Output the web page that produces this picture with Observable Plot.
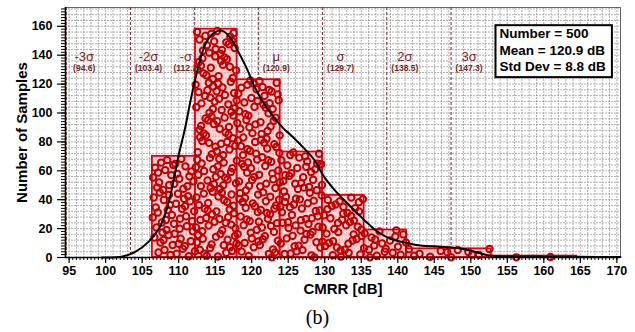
<!DOCTYPE html>
<html><head><meta charset="utf-8">
<script src="https://cdn.jsdelivr.net/npm/d3@7"></script>
<script src="https://cdn.jsdelivr.net/npm/@observablehq/plot@0.6"></script>
<style>
body{margin:0;background:#fff;font-family:"Liberation Sans",Arial,sans-serif}
#chart svg{display:block}
#caption{width:635px;text-align:center;font-family:"Liberation Serif","Times New Roman",serif;font-size:20px;line-height:30px;height:30px}
</style></head><body>
<div id="chart"></div>
<div id="caption">(b)</div>
<script>
// ---- data ----
const binEdges = [106.4, 112.3, 118.0, 123.9, 129.7, 135.4, 141.2, 147.0, 152.8, 158.6, 164.5];
const binCounts = [70, 158, 123, 73, 43, 19, 6, 6, 1, 1];
const sigmaValues = [94.6, 103.4, 112.2, 120.9, 129.7, 138.5, 147.3];
const sigmaNames = ["-3σ", "-2σ", "-σ", "μ", "σ", "2σ", "3σ"];
const sigmaValueLabels = ["(94.6)", "(103.4)", "(112.2)", "(120.9)", "(129.7)", "(138.5)", "(147.3)"];
const curveX = [99.5, 102.3, 104.1, 105.9, 107.3, 108.4, 109.3, 110.0, 110.9, 111.6, 112.3, 113.0, 113.9, 115.0, 115.9, 117.1, 118.0, 119.4, 120.3, 122.0, 124.4, 125.3, 126.7, 128.5, 129.9, 131.3, 132.6, 134.0, 135.4, 137.2, 139.0, 141.3, 143.1, 145.9, 148.2, 150.4, 152.3, 153.6, 156, 160, 165, 170.5];
const curveY = [0, 0.7, 4, 11, 20, 34, 53, 71, 90, 108, 124, 138, 150, 156, 157, 152, 144, 130, 119, 104, 89, 85, 78, 68, 56, 47, 40, 33, 26, 18, 13, 10, 8.3, 7.5, 6.5, 4.2, 1.6, 0.9, 0.7, 0.6, 0.5, 0.3];
const xTicks = [95, 100, 105, 110, 115, 120, 125, 130, 135, 140, 145, 150, 155, 160, 165, 170];
const yTicks = [0, 20, 40, 60, 80, 100, 120, 140, 160];
const sampleCount = 500, meanDb = 120.9, stdDevDb = 8.8;
const xLabel = "CMRR [dB]", yLabel = "Number of Samples";

// ---- derived tables ----
const bins = binCounts.map((c, i) => ({x1: binEdges[i], x2: binEdges[i + 1], count: c}));
function halton(i, b) { let f = 1, r = 0; while (i > 0) { f /= b; r += f * (i % b); i = Math.floor(i / b); } return r; }
const samples = [];
bins.forEach((b, i) => {
  for (let j = 0; j < b.count; j++) {
    const k = i * 61 + j + 1;
    samples.push({x: b.x1 + halton(k, 2) * (b.x2 - b.x1), y: halton(k, 3) * b.count});
  }
});
const curve = curveX.map((x, i) => ({x, y: curveY[i]}));
const sigmas = sigmaValues.map((v, i) => ({v, name: sigmaNames[i], label: sigmaValueLabels[i]}));
const legendText = `Number = ${sampleCount}\nMean = ${meanDb} dB\nStd Dev = ${stdDevDb} dB`;

const sigColor = "#7e2626";
const sigLeft = sigmas.filter(d => d.name === "-σ");
const sigRight = sigmas.filter(d => d.name !== "-σ");

const plot = Plot.plot({
  width: 635, height: 302,
  marginLeft: 65, marginRight: 15, marginTop: 7, marginBottom: 45,
  style: {fontFamily: "'Liberation Sans', Arial, sans-serif", background: "#fff"},
  x: {domain: [94.5, 170.5]},
  y: {domain: [0, 173]},
  marks: [
    Plot.gridX(d3.range(95, 171, 1), {stroke: "#8c8c8c", strokeOpacity: 1, strokeWidth: 0.7, strokeDasharray: "2,1"}),
    Plot.gridY(d3.range(4, 173, 4), {stroke: "#8c8c8c", strokeOpacity: 1, strokeWidth: 0.7, strokeDasharray: "2,1"}),
    Plot.frame({stroke: "#666", strokeWidth: 1}),
    Plot.ruleX(sigmas, {x: "v", stroke: sigColor, strokeWidth: 1, strokeDasharray: "3,2"}),
    Plot.rectY(bins, {x1: "x1", x2: "x2", y: "count", fill: "#f6b9be", fillOpacity: 0.6, stroke: "#e50010", strokeWidth: 1.8}),
    Plot.dot(samples, {x: "x", y: "y", r: 3.2, stroke: "#c00000", strokeWidth: 2, fill: "none"}),
    Plot.line(curve, {x: "x", y: "y", curve: "catmull-rom", stroke: "#000", strokeWidth: 2}),
    Plot.text(sigRight, {x: "v", text: "name", frameAnchor: "top", dy: 44, dx: 18, fill: sigColor, fontSize: 13, className: "sig-name"}),
    Plot.text(sigRight, {x: "v", text: "label", frameAnchor: "top", dy: 57, dx: 18, fill: sigColor, fontSize: 8.5, className: "sig-val"}),
    Plot.text(sigLeft, {x: "v", text: "name", frameAnchor: "top", dy: 44, dx: -9, fill: sigColor, fontSize: 13, className: "sig-name"}),
    Plot.text(sigLeft, {x: "v", text: "label", frameAnchor: "top", dy: 57, dx: -8, fill: sigColor, fontSize: 8.5, className: "sig-val"}),
    Plot.text([legendText], {frameAnchor: "top-right", dx: -121, dy: 19, textAnchor: "start", lineAnchor: "top", lineHeight: 1.22, fontSize: 13.5, fill: "#000", className: "legend-text"}),
    Plot.axisX(d3.range(95, 170.01, 0.5), {tickSize: 3, text: null, stroke: "#000", strokeWidth: 1}),
    Plot.axisX(xTicks, {tickSize: 6, tickPadding: 3, fontSize: 12.5, stroke: "#000", strokeWidth: 1.2, label: xLabel, labelAnchor: "center", labelArrow: "none", labelOffset: 36, color: "#000"}),
    Plot.axisY(d3.range(0, 173, 2), {tickSize: 4, text: null, stroke: "#000"}),
    Plot.axisY(yTicks, {tickSize: 8, tickPadding: 5, fontSize: 12.5, stroke: "#000", strokeWidth: 1.2, label: yLabel, labelAnchor: "center", labelArrow: "none", labelOffset: 49, color: "#000"}),
    Plot.ruleY([0], {stroke: "#000", strokeWidth: 1.6}),
    Plot.ruleX([94.5], {stroke: "#000", strokeWidth: 1.6})
  ]
});
document.getElementById("chart").appendChild(plot);

function styleAll(sel, size, weight) {
  plot.querySelectorAll(sel).forEach(g => {
    g.style.fontSize = size + "px"; g.style.fontWeight = weight;
    g.querySelectorAll("text").forEach(t => { t.style.fontSize = size + "px"; t.style.fontWeight = weight; });
  });
}
styleAll("[aria-label='x-axis tick label'], [aria-label='y-axis tick label']", 12.5, "bold");
styleAll("[aria-label='x-axis label'], [aria-label='y-axis label']", 15, "bold");
styleAll(".sig-val", 8.5, "bold");
styleAll(".legend-text", 13.5, "bold");

// legend box around the legend text
const lt = plot.querySelector(".legend-text");
if (lt) {
  const bb = lt.getBBox();
  const ns = "http://www.w3.org/2000/svg";
  const r = document.createElementNS(ns, "rect");
  r.setAttribute("x", bb.x - 4); r.setAttribute("y", bb.y - 1);
  r.setAttribute("width", bb.width + 10); r.setAttribute("height", bb.height + 4);
  r.setAttribute("fill", "#fff"); r.setAttribute("stroke", "#000"); r.setAttribute("stroke-width", 2);
  lt.insertBefore(r, lt.firstChild);
}
</script>
</body></html>
